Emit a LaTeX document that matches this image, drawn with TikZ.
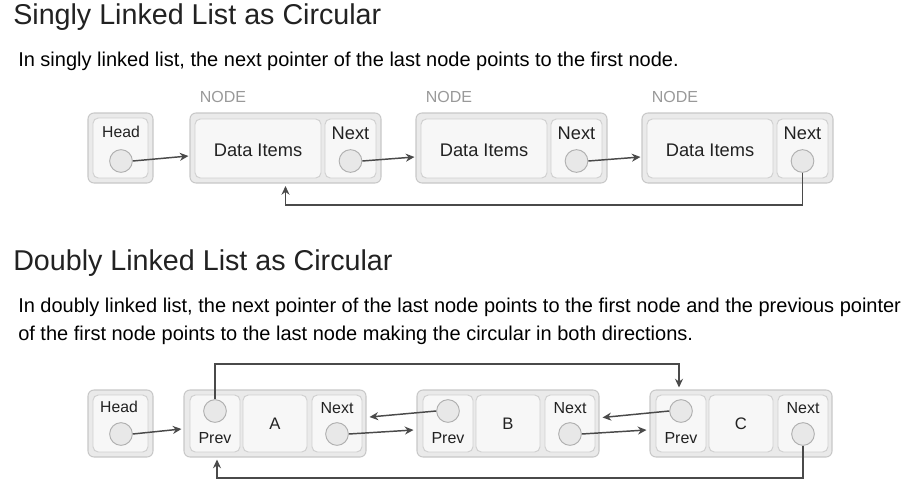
\documentclass[tikz,border=0pt]{standalone}
\usepackage{fontspec}
\setmainfont{Liberation Sans}
\usetikzlibrary{calc,arrows.meta}
\definecolor{outerfill}{HTML}{EAEAEA}
\definecolor{outerdraw}{HTML}{C8C8C8}
\definecolor{innerfill}{HTML}{F7F7F7}
\definecolor{innerdraw}{HTML}{D0D0D0}
\definecolor{ptrfill}{HTML}{E8E8E8}
\definecolor{ptrdraw}{HTML}{B0B0B0}
\definecolor{arrcol}{HTML}{4A4A4A}
\definecolor{txt}{HTML}{222222}
\definecolor{nodegray}{HTML}{999999}
\tikzset{
  sz/.style 2 args={minimum width=#1*0.75pt, minimum height=#2*0.75pt},
  outerbox/.style={draw=outerdraw, fill=outerfill, line width=0.8pt, rounded corners=4.5pt, inner sep=0pt},
  innerbox/.style={draw=innerdraw, fill=innerfill, line width=0.7pt, rounded corners=4pt, inner sep=0pt, text=txt, font=\fontsize{13.8}{16}\selectfont},
  ptr/.style={circle, draw=ptrdraw, fill=ptrfill, line width=0.7pt, minimum size=17pt, inner sep=0pt},
  lbl/.style={text=txt, inner sep=0pt, font=\fontsize{13.7}{16}\selectfont},
  headlbl/.style={text=txt, inner sep=0pt, font=\fontsize{11.8}{13}\selectfont},
  smalllbl/.style={text=txt, inner sep=0pt, font=\fontsize{12}{14}\selectfont},
  nodelbl/.style={text=nodegray, inner sep=0pt, font=\fontsize{12}{14}\selectfont},
  titletxt/.style={text=txt, inner sep=0pt, anchor=base west, font=\fontsize{21.5}{25}\selectfont},
  paratxt/.style={text=black, inner sep=0pt, anchor=base west, font=\fontsize{15}{18}\selectfont},
  arr/.style={draw=arrcol, line width=1.1pt, -{Stealth[length=6.5pt,width=6pt]}},
}
\begin{document}
\begin{tikzpicture}[x=0.75pt,y=-0.75pt]
\path[use as bounding box, fill=white] (0,0) rectangle (918,493);

% ---------- Singly ----------
\node[titletxt] (t1) at (13,24) {Singly Linked List as Circular};
\node[paratxt] (p1) at (18,66.5) {In singly linked list, the next pointer of the last node points to the first node.};

\node[outerbox, sz={65}{70}] (h1) at (120.5,148) {};
\node[innerbox, sz={55}{60}] (h1i) at (120.5,148) {};
\node[headlbl] (h1t) at (121,132) {Head};
\node[ptr] (h1c) at (121,161) {};

\foreach \L/\i in {190/1,416/2,642/3}{
  \node[nodelbl] (nl\i) at (\L+33,97) {NODE};
  \node[outerbox, sz={191}{70}] (n\i) at (\L+95.5,148) {};
  \node[innerbox, sz={126}{59}] (d\i) at (\L+68,148.5) {};
  \node[lbl] (dt\i) at (\L+68,150) {Data Items};
  \node[innerbox, sz={51}{59}] (x\i) at (\L+160.5,148.5) {};
  \node[lbl] (xt\i) at (\L+160.5,133) {Next};
  \node[ptr] (c\i) at (\L+160.5,161) {};
}
\draw[arr] (h1c.east) -- ($(n1.west)+(-1,8)$);
\draw[arr] (c1.east) -- ($(n2.west)+(-1,9)$);
\draw[arr] (c2.east) -- ($(n3.west)+(-1,9)$);
\coordinate (fb1) at (0,205);
\draw[arr] (c3.south) -- (c3.south |- fb1) -| ($(n1.south)+(0,2.5)$);

% ---------- Doubly ----------
\node[titletxt] (t2) at (13,270) {Doubly Linked List as Circular};
\node[paratxt] (p2) at (18,312.5) {In doubly linked list, the next pointer of the last node points to the first node and the previous pointer};
\node[paratxt] (p3) at (18,340) {of the first node points to the last node making the circular in both directions.};

\node[outerbox, sz={65}{67}] (h2) at (120.5,423.5) {};
\node[innerbox, sz={55}{57}] (h2i) at (120.5,423.5) {};
\node[headlbl] (h2t) at (119,407) {Head};
\node[ptr] (h2c) at (121,434) {};

\foreach \L/\i in {184/A,417/B,650/C}{
  \node[outerbox, sz={182}{67}] (o\i) at (\L+91,423.5) {};
  \node[innerbox, sz={50}{57}] (pb\i) at (\L+31,423.5) {};
  \node[innerbox, sz={64}{57}, font=\fontsize{12.5}{14}\selectfont] (db\i) at (\L+91,423.5) {\i};
  \node[innerbox, sz={50}{57}] (nb\i) at (\L+153,423.5) {};
  \node[ptr] (p\i) at (\L+31,411) {};
  \node[smalllbl] (pt\i) at (\L+31,438) {Prev};
  \node[smalllbl] (nt\i) at (\L+153,408) {Next};
  \node[ptr] (q\i) at (\L+153,434) {};
}
\draw[arr] (h2c.east) -- ($(oA.west)+(-2,5.5)$);
\draw[arr] (qA.east) -- ($(oB.west)+(-3,6.5)$);
\draw[arr] (pB.west) -- ($(oA.east)+(3,-6.5)$);
\draw[arr] (qB.east) -- ($(oC.west)+(-3,6.5)$);
\draw[arr] (pC.west) -- ($(oB.east)+(3,-6)$);
\coordinate (tl) at (0,364);
\draw[arr] (pA.north) -- (pA.north |- tl) -| ($(pC.north |- oC.north)+(-2,-2)$);
\coordinate (bl) at (0,478);
\draw[arr] (qC.south) -- (qC.south |- bl) -| ($(pA.south |- oA.south)+(2,2)$);
\end{tikzpicture}
\end{document}
